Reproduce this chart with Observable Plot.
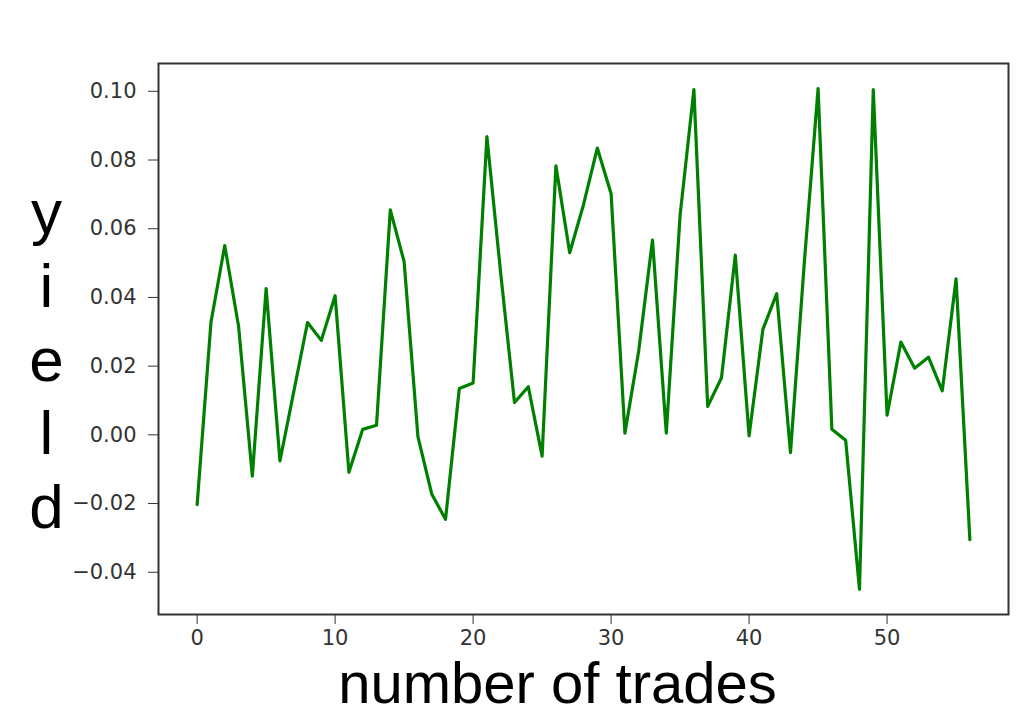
<!DOCTYPE html>
<html><head><meta charset="utf-8">
<script src="https://cdn.jsdelivr.net/npm/d3@7"></script>
<script src="https://cdn.jsdelivr.net/npm/@observablehq/plot@0.6"></script>
<style>body{margin:0;background:#fff}</style>
</head><body><div id="chart"></div>
<script>
const yields = [
  -0.0203, 0.0327, 0.0551, 0.0317, -0.0120, 0.0426, -0.0076, 0.0125, 0.0327, 0.0275,
  0.0405, -0.0109, 0.0016, 0.0028, 0.0655, 0.0504, -0.0005, -0.0172, -0.0246, 0.0135,
  0.0151, 0.0868, 0.0470, 0.0094, 0.0140, -0.0062, 0.0783, 0.0530, 0.0670, 0.0835,
  0.0702, 0.0005, 0.0244, 0.0567, 0.0005, 0.0639, 0.1005, 0.0083, 0.0166, 0.0523,
  -0.0003, 0.0307, 0.0411, -0.0052, 0.0500, 0.1008, 0.0016, -0.0016, -0.0450, 0.1005,
  0.0057, 0.0270, 0.0194, 0.0226, 0.0128, 0.0454, -0.0305
];
const xTicks = [0, 10, 20, 30, 40, 50];
const yTicks = [-0.04, -0.02, 0.00, 0.02, 0.04, 0.06, 0.08, 0.10];
const xLabel = "number of trades";
const yLabel = "yield";

const chart = Plot.plot({
  width: 1024, height: 720,
  marginLeft: 158, marginRight: 16, marginTop: 63, marginBottom: 106,
  style: {fontFamily: "DejaVu Sans", background: "#fff", color: "#333"},
  x: {domain: [-2.8, 58.8]},
  y: {domain: [-0.0523, 0.1081]},
  marks: [
    Plot.axisX({ticks: xTicks, tickSize: 10, tickPadding: 6, fontSize: 21, label: null, stroke: "#333", fill: "#333"}),
    Plot.axisY({ticks: yTicks, tickFormat: d3.format(".2f"), tickSize: 10, tickPadding: 12, fontSize: 21, label: null, stroke: "#333", fill: "#333"}),
    Plot.frame({stroke: "#333", strokeWidth: 2}),
    Plot.lineY(yields, {stroke: "#008000", strokeWidth: 3.2}),
    Plot.text([yLabel.split("").join("\n")], {
      frameAnchor: "left", dx: -112, dy: 18, fontSize: 62, lineHeight: 1.19,
      textAnchor: "middle", lineAnchor: "middle", fill: "black", fontFamily: "Liberation Sans"
    }),
    Plot.text([xLabel], {
      frameAnchor: "bottom", dx: -26, dy: 47, fontSize: 58, lineAnchor: "top",
      textAnchor: "middle", fill: "black", fontFamily: "Liberation Sans"
    })
  ]
});
document.getElementById("chart").appendChild(chart);
</script>
</body></html>
